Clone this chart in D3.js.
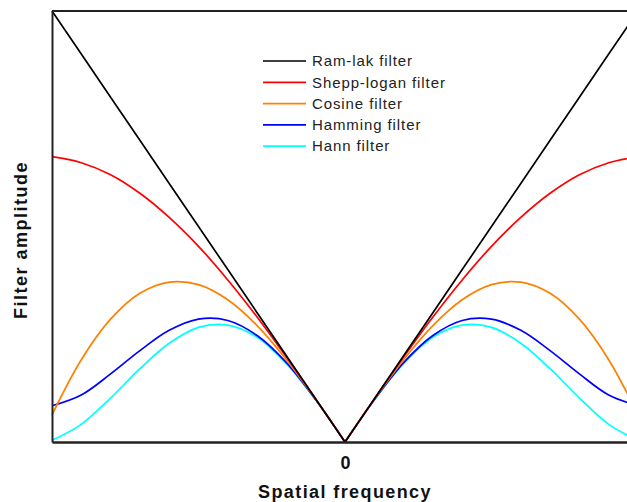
<!DOCTYPE html>
<html>
<head>
<meta charset="utf-8">
<script src="https://cdn.jsdelivr.net/npm/d3@7"></script>
<style>
  body { margin: 0; background: #fff; }
  svg { display: block; font-family: "Liberation Sans", Arial, sans-serif; }
</style>
</head>
<body>
<div class="filter-graph"></div>
<script>
// chart size and plot edges (plot runs past the right edge, like the original crop)
var width = 627, height = 502;
var margin = {top: 11, left: 52};
var plotRight = 638, plotBottom = 442;

// normalized spatial frequency, -1 .. 1
var freq = [-1, -0.9, -0.8, -0.7, -0.6, -0.5, -0.4, -0.3, -0.2, -0.1, 0,
            0.1, 0.2, 0.3, 0.4, 0.5, 0.6, 0.7, 0.8, 0.9, 1];

// filter amplitudes (left half, mirrored on the right)
var ramlak = [1, 0.9, 0.8, 0.7, 0.6, 0.5, 0.4, 0.3, 0.2, 0.1, 0,
              0.1, 0.2, 0.3, 0.4, 0.5, 0.6, 0.7, 0.8, 0.9, 1];
var shepp  = [0.662, 0.648, 0.62, 0.577, 0.521, 0.454, 0.376, 0.29, 0.197, 0.1, 0,
              0.1, 0.197, 0.29, 0.376, 0.454, 0.521, 0.577, 0.62, 0.648, 0.662];
var cosine = [0.063, 0.191, 0.285, 0.345, 0.371, 0.365, 0.33, 0.27, 0.191, 0.099, 0,
              0.099, 0.191, 0.27, 0.33, 0.365, 0.371, 0.345, 0.285, 0.191, 0.063];
var hamming = [0.084, 0.109, 0.158, 0.212, 0.259, 0.285, 0.282, 0.247, 0.184, 0.098, 0,
               0.098, 0.184, 0.247, 0.282, 0.285, 0.259, 0.212, 0.158, 0.109, 0.084];
var hann   = [0.004, 0.041, 0.102, 0.17, 0.229, 0.266, 0.271, 0.243, 0.182, 0.098, 0,
              0.098, 0.182, 0.243, 0.271, 0.266, 0.229, 0.17, 0.102, 0.041, 0.004];

var seriesNames = ["Ram-lak filter", "Shepp-logan filter", "Cosine filter", "Hamming filter", "Hann filter"];
var seriesValues = [ramlak, shepp, cosine, hamming, hann];
var seriesColors = ["#000000", "#ff0000", "#ff8000", "#0000ff", "#00ffff"];

var xTicks = [0];

var svg = d3.select(".filter-graph").append("svg")
    .attr("width", width)
    .attr("height", height);

var x = d3.scaleLinear().domain([-1, 1]).range([margin.left, plotRight]);
var y = d3.scaleLinear().domain([0, 1]).range([plotBottom, margin.top]);

var smooth = d3.line()
    .x(function(d) { return x(d[0]); })
    .y(function(d) { return y(d[1]); })
    .curve(d3.curveCatmullRom.alpha(0.5));
var straight = d3.line()
    .x(function(d) { return x(d[0]); })
    .y(function(d) { return y(d[1]); });

// curves, drawn back to front so the black one sits on top;
// each side of zero is its own path so the dip at 0 stays sharp
var curves = svg.append("g").attr("class", "curves");
for (var i = seriesValues.length - 1; i >= 0; i--) {
  var pts = freq.map(function(f, j) { return [f, seriesValues[i][j]]; });
  var halves = [pts.filter(function(p) { return p[0] <= 0; }),
                pts.filter(function(p) { return p[0] >= 0; })];
  halves.forEach(function(h) {
    curves.append("path")
        .datum(h)
        .attr("fill", "none")
        .attr("stroke", seriesColors[i])
        .attr("stroke-width", 1.7)
        .attr("d", i === 0 ? straight : smooth);
  });
}

// top border of the frame
svg.append("line")
    .attr("x1", x(-1)).attr("x2", x(1))
    .attr("y1", y(1)).attr("y2", y(1))
    .attr("stroke", "#222").attr("stroke-width", 2);

// X axis
var xAxis = svg.append("g")
    .attr("transform", "translate(0," + plotBottom + ")")
    .call(d3.axisBottom(x).tickValues(xTicks).tickSize(0).tickPadding(14).tickFormat(d3.format("d")));
xAxis.select(".domain").attr("stroke", "#222").attr("stroke-width", 2.5);
xAxis.selectAll("text")
    .attr("fill", "#111")
    .style("font-size", "18px")
    .style("font-weight", "bold")
    .style("font-family", "Liberation Sans, Arial, sans-serif");

// Y axis
var yAxis = svg.append("g")
    .attr("transform", "translate(" + margin.left + ",0)")
    .call(d3.axisLeft(y).tickValues([]).tickSizeOuter(0));
yAxis.select(".domain").attr("stroke", "#222").attr("stroke-width", 2);

// axis titles
svg.append("text")
    .attr("x", x(0))
    .attr("y", 498)
    .attr("text-anchor", "middle")
    .style("font-size", "18px")
    .style("font-weight", "bold")
    .style("letter-spacing", "1.4px")
    .attr("fill", "#111")
    .text("Spatial frequency");

svg.append("text")
    .attr("transform", "translate(27,240) rotate(-90)")
    .attr("text-anchor", "middle")
    .style("font-size", "18px")
    .style("font-weight", "bold")
    .style("letter-spacing", "1.5px")
    .attr("fill", "#111")
    .text("Filter amplitude");

// legend
var legend = svg.append("g").attr("class", "legend")
    .attr("transform", "translate(263,61)");
seriesNames.forEach(function(name, i) {
  var row = legend.append("g").attr("transform", "translate(0," + (i * 21.3) + ")");
  row.append("line")
      .attr("x1", 0).attr("x2", 43)
      .attr("y1", 0).attr("y2", 0)
      .attr("stroke", seriesColors[i])
      .attr("stroke-width", 1.7);
  row.append("text")
      .attr("x", 49)
      .attr("y", 0)
      .attr("dy", "0.35em")
      .style("font-size", "15px")
      .style("letter-spacing", "0.9px")
      .attr("fill", "#222")
      .text(name);
});
</script>
</body>
</html>
